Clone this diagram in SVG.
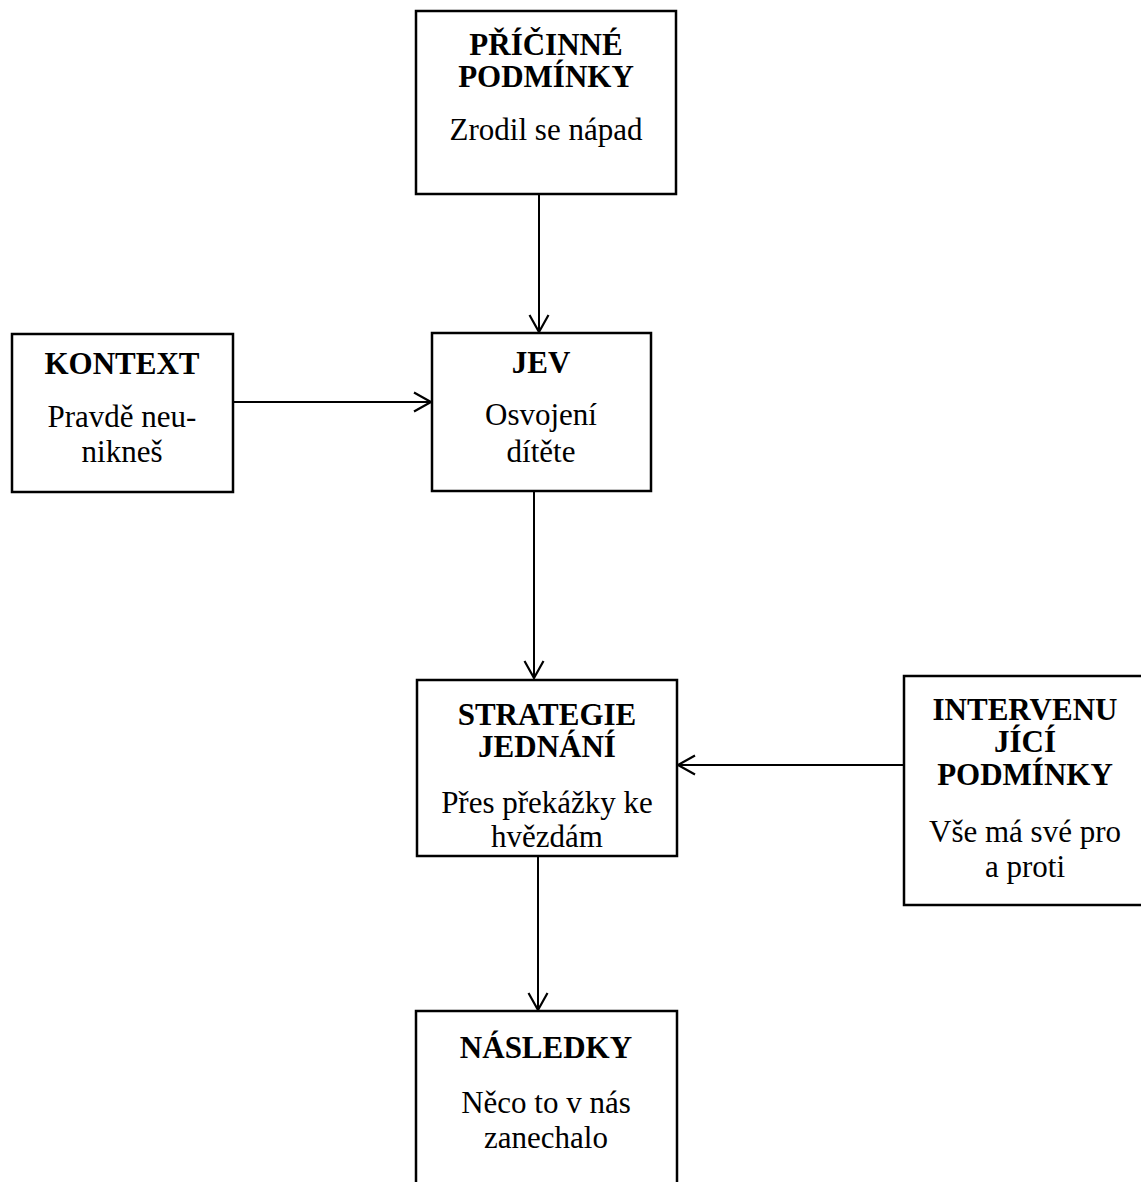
<svg xmlns="http://www.w3.org/2000/svg" width="1141" height="1182" viewBox="0 0 1141 1182">
<style>
.box{fill:#fff;stroke:#000;stroke-width:2.5}
.t{font-family:"Liberation Serif","Times New Roman",serif;font-size:31px;text-anchor:middle;fill:#000}
.b{font-weight:bold}
.c{stroke:#000;stroke-width:2;fill:none}
</style>
<defs>
<marker id="ah" markerUnits="userSpaceOnUse" markerWidth="24" markerHeight="24" viewBox="-20 -12 24 24" refX="0" refY="0" orient="auto">
<path d="M-17,-9.5 L0,0 L-17,9.5" fill="none" stroke="#000" stroke-width="2.2"/>
</marker>
</defs>
<rect width="1141" height="1182" fill="#fff"/>
<g id="connectors">
<line class="c" x1="539" y1="194" x2="539" y2="332" marker-end="url(#ah)"/>
<line class="c" x1="233" y1="402" x2="431" y2="402" marker-end="url(#ah)"/>
<line class="c" x1="534" y1="491" x2="534" y2="678" marker-end="url(#ah)"/>
<line class="c" x1="904" y1="765" x2="678" y2="765" marker-end="url(#ah)"/>
<line class="c" x1="538" y1="856" x2="538" y2="1010" marker-end="url(#ah)"/>
</g>
<g id="pricinne">
<rect class="box" x="416" y="11" width="260" height="183"/>
<text class="t b" x="546" y="55">PŘÍČINNÉ</text>
<text class="t b" x="546" y="87">PODMÍNKY</text>
<text class="t" x="546" y="140">Zrodil se nápad</text>
</g>
<g id="kontext">
<rect class="box" x="12" y="334" width="221" height="158"/>
<text class="t b" x="122" y="374">KONTEXT</text>
<text class="t" x="122" y="427">Pravdě neu-</text>
<text class="t" x="122" y="462">nikneš</text>
</g>
<g id="jev">
<rect class="box" x="432" y="333" width="219" height="158"/>
<text class="t b" x="541" y="373">JEV</text>
<text class="t" x="541" y="425">Osvojení</text>
<text class="t" x="541" y="462">dítěte</text>
</g>
<g id="strategie">
<rect class="box" x="417" y="680" width="260" height="176"/>
<text class="t b" x="547" y="725">STRATEGIE</text>
<text class="t b" x="547" y="757">JEDNÁNÍ</text>
<text class="t" x="547" y="813">Přes překážky ke</text>
<text class="t" x="547" y="847">hvězdám</text>
</g>
<g id="intervenujici">
<rect class="box" x="904" y="676" width="245" height="229"/>
<text class="t b" x="1025" y="720">INTERVENU</text>
<text class="t b" x="1025" y="752">JÍCÍ</text>
<text class="t b" x="1025" y="785">PODMÍNKY</text>
<text class="t" x="1025" y="842">Vše má své pro</text>
<text class="t" x="1025" y="877">a proti</text>
</g>
<g id="nasledky">
<rect class="box" x="416" y="1011" width="261" height="190"/>
<text class="t b" x="546" y="1058">NÁSLEDKY</text>
<text class="t" x="546" y="1113">Něco to v nás</text>
<text class="t" x="546" y="1148">zanechalo</text>
</g>
</svg>
